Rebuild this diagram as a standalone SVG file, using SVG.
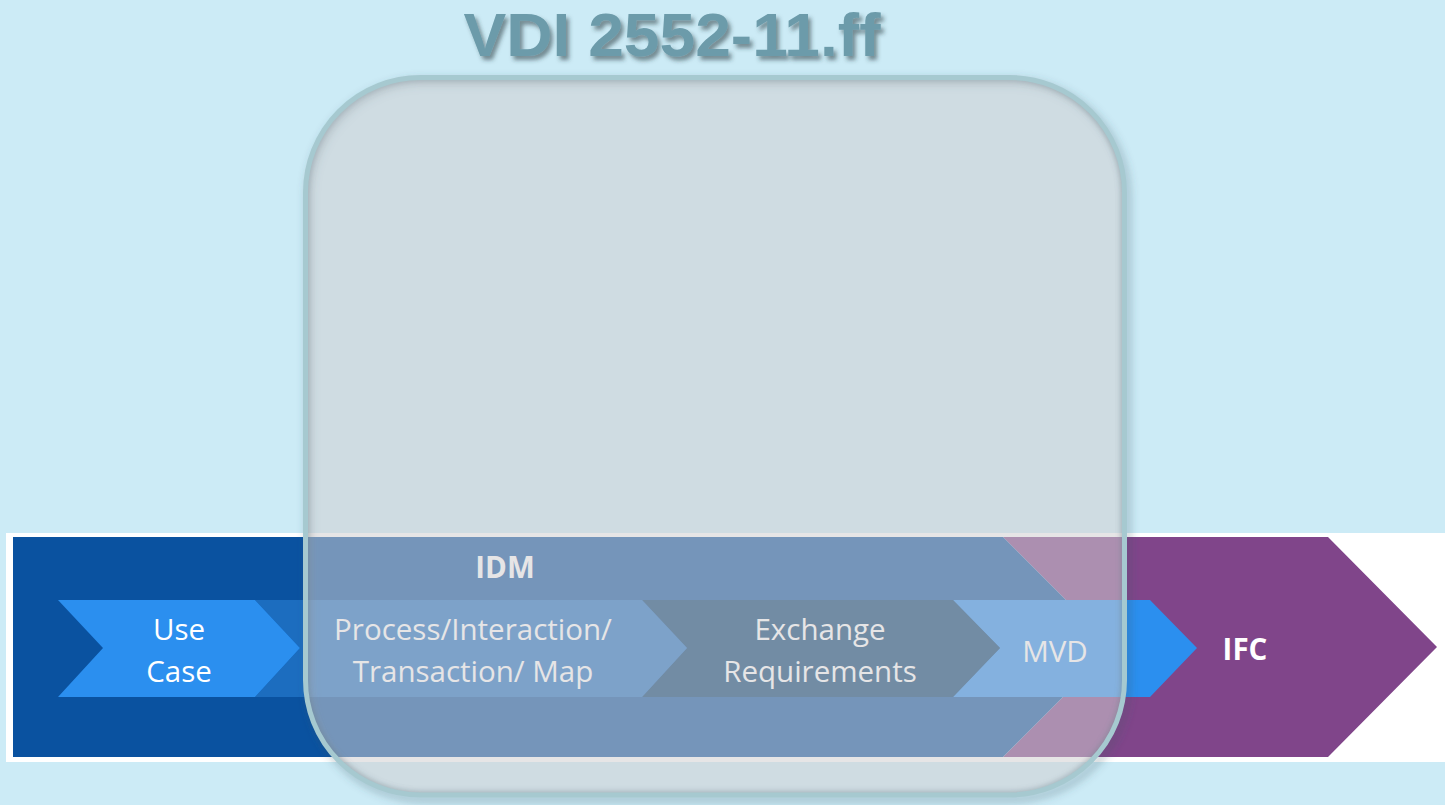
<svg xmlns="http://www.w3.org/2000/svg" width="1445" height="805" viewBox="0 0 1445 805">
<defs>
<style>
.lbl{font-family:"Open Sans","Noto Sans","Liberation Sans",sans-serif;font-size:29.5px;fill:#ffffff;text-anchor:middle}
.bold{font-weight:bold}
</style>
<filter id="tshadow" x="-10%" y="-20%" width="120%" height="150%">
<feDropShadow dx="3" dy="4" stdDeviation="2" flood-color="#2a3a40" flood-opacity="0.55"/>
</filter>
<filter id="blur4" x="-10%" y="-10%" width="120%" height="120%">
<feGaussianBlur stdDeviation="4"/>
</filter>
<filter id="blur2" x="-10%" y="-10%" width="120%" height="120%">
<feGaussianBlur stdDeviation="2.5"/>
</filter>
<clipPath id="inside">
<rect x="305.5" y="77.5" width="819" height="717.5" rx="115" ry="115"/>
</clipPath>
</defs>
<rect width="1445" height="805" fill="#CCEBF6"/>
<g id="title">
<text x="672" y="56" text-anchor="middle" font-family="'Liberation Sans',Arial,sans-serif" font-weight="bold" font-size="62" fill="#6C9BAA" textLength="417" lengthAdjust="spacingAndGlyphs" filter="url(#tshadow)">VDI 2552-11.ff</text>
</g>
<g id="strip">
<rect x="6" y="533" width="1439" height="229" fill="#ffffff"/>
</g>
<g id="ifc">
<polygon points="1003,537 1328,537 1437,647 1328,757 1003,757 1113,647" fill="#80458A"/>
<text class="lbl bold" x="1245" y="660">IFC</text>
</g>
<g id="idm">
<polygon points="13,537 1003,537 1113,647 1003,757 13,757" fill="#0A52A0"/>
<text class="lbl bold" x="505" y="578" font-size="28">IDM</text>
</g>
<g id="mvd">
<polygon points="953,600 1150,600 1197,648 1150,697 953,697 1000,648" fill="#2B8FEF"/>
<text class="lbl" x="1055" y="662">MVD</text>
</g>
<g id="exchange">
<polygon points="642,600 953,600 1000,648 953,697 642,697 687,648" fill="#033E70"/>
<text class="lbl" x="820" y="640">Exchange</text>
<text class="lbl" x="820" y="682">Requirements</text>
</g>
<g id="process">
<polygon points="255,600 642,600 687,648 642,697 255,697 300,648" fill="#1C6DBF"/>
<text class="lbl" x="473" y="640">Process/Interaction/</text>
<text class="lbl" x="473" y="682">Transaction/ Map</text>
</g>
<g id="usecase">
<polygon points="58,600 255,600 300,648 255,697 58,697 103,648" fill="#2B8FEF"/>
<text class="lbl" x="179" y="640">Use</text>
<text class="lbl" x="179" y="682">Case</text>
</g>
<g id="overlay">
<rect x="308.5" y="81.5" width="819" height="717.5" rx="115" ry="115" fill="none" stroke="#3a5560" stroke-opacity="0.35" stroke-width="6" filter="url(#blur4)"/>
<rect x="305.5" y="77.5" width="819" height="717.5" rx="115" ry="115" fill="#D0CFD1" fill-opacity="0.54"/>
<g clip-path="url(#inside)">
<rect x="305.5" y="77.5" width="819" height="717.5" rx="115" ry="115" fill="none" stroke="#6a7c86" stroke-opacity="0.35" stroke-width="8" filter="url(#blur2)"/>
</g>
<rect x="305.5" y="77.5" width="819" height="717.5" rx="115" ry="115" fill="none" stroke="#A6C9D0" stroke-width="5"/>
</g>
<g id="connectors"/>
</svg>
